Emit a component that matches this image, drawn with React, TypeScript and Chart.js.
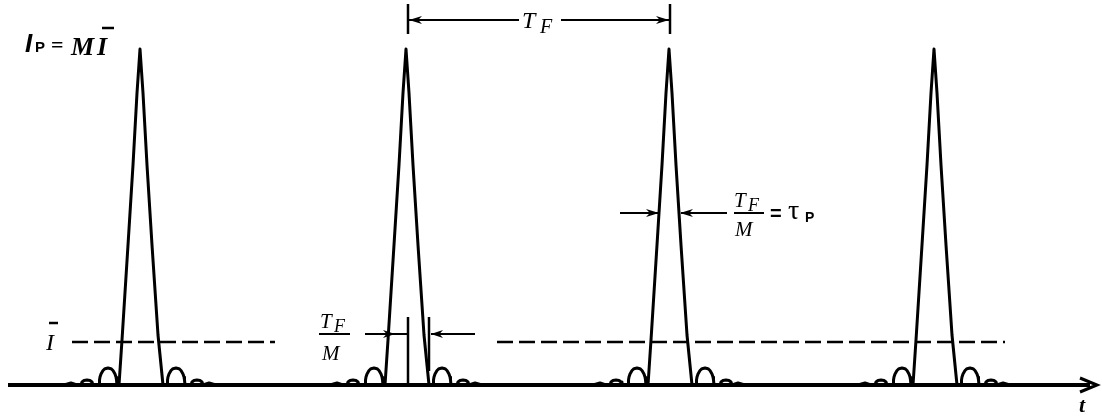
import React, { useEffect, useRef } from "react";
import { Chart, registerables } from "chart.js";

Chart.register(...registerables);

// ---- data ----
const axisStart = 8;
const axisEnd = 1090;
const pulseCenters = [140, 406, 669, 934];
// one pulse profile: offset from the pulse peak, and height above the baseline
const profileOffsets = [
  -76, -69, -63, -59, -58, -56, -53, -50, -48, -47,
  -41, -40.5, -40, -39, -37, -35, -32, -29, -27, -25, -24, -23.5, -23,
  -21, -18, -12, -7, -3, 0, 3, 7, 12, 18, 23,
  27, 27.5, 28, 29, 31, 33, 36, 39, 41, 43, 44, 44.5, 45,
  51, 52, 54, 57, 60, 62, 63, 69, 76,
];
const profileHeights = [
  0, 2, 0, 0, 3, 4.5, 5, 4.5, 3, 0,
  0, 5, 8, 11, 14.5, 16.3, 17, 16.3, 14.5, 11, 8, 5, 0,
  0, 45, 140, 220, 292, 336, 292, 220, 140, 50, 0,
  0, 5, 8, 11, 14.5, 16.3, 17, 16.3, 14.5, 11, 8, 5, 0,
  0, 3, 4.5, 5, 4.5, 3, 0, 2, 0,
];
const meanLevel = 43; // I-bar level
const meanSegments = [
  [72, 275],
  [497, 1005],
];

function buildPulseTrain() {
  const pts: { x: number; y: number }[] = [{ x: axisStart, y: 0 }];
  pulseCenters.forEach((c) => {
    profileOffsets.forEach((o, i) => pts.push({ x: c + o, y: profileHeights[i] }));
  });
  pts.push({ x: axisEnd, y: 0 });
  return pts;
}

function buildMeanLine() {
  const pts: { x: number; y: number | null }[] = [];
  meanSegments.forEach((s, i) => {
    if (i > 0) pts.push({ x: s[0] - 1, y: null });
    pts.push({ x: s[0], y: meanLevel });
    pts.push({ x: s[1], y: meanLevel });
  });
  return pts;
}

function arrowHead(ctx: CanvasRenderingContext2D, tx: number, ty: number, dir: number, len = 11, half = 4) {
  ctx.beginPath();
  ctx.moveTo(tx, ty);
  ctx.lineTo(tx - dir * len, ty - half);
  ctx.lineTo(tx - dir * len * 0.7, ty);
  ctx.lineTo(tx - dir * len, ty + half);
  ctx.closePath();
  ctx.fill();
}

function line(ctx: CanvasRenderingContext2D, x1: number, y1: number, x2: number, y2: number, w = 2) {
  ctx.lineWidth = w;
  ctx.beginPath();
  ctx.moveTo(x1, y1);
  ctx.lineTo(x2, y2);
  ctx.stroke();
}

const annotations = {
  id: "annotations",
  afterDatasetsDraw(chart: any) {
    const ctx: CanvasRenderingContext2D = chart.ctx;
    const xs = chart.scales.x;
    const ys = chart.scales.y;
    const X = (v: number) => xs.getPixelForValue(v);
    const Y = (v: number) => ys.getPixelForValue(v);
    ctx.save();
    ctx.strokeStyle = "#000";
    ctx.fillStyle = "#000";
    ctx.lineCap = "butt";
    const serif = '"Liberation Serif", "DejaVu Serif", serif';
    const sans = '"Liberation Sans", "DejaVu Sans", sans-serif';
    ctx.textAlign = "left";

    // axis arrow + t
    ctx.lineWidth = 3;
    ctx.beginPath();
    ctx.moveTo(X(1080), Y(7));
    ctx.lineTo(X(1097), Y(0));
    ctx.lineTo(X(1080), Y(-7));
    ctx.stroke();
    ctx.font = `italic bold 22px ${serif}`;
    ctx.fillText("t", X(1079), Y(-27));

    // I_P = M I-bar label
    ctx.font = `italic bold 26px ${sans}`;
    ctx.fillText("I", X(25), Y(333));
    ctx.font = `bold 15px ${sans}`;
    ctx.fillText("P", X(35), Y(333));
    ctx.font = `bold 22px ${serif}`;
    ctx.fillText("=", X(51), Y(333));
    ctx.font = `italic bold 26px ${serif}`;
    ctx.fillText("M", X(71), Y(330));
    ctx.fillText("I", X(97), Y(330));
    line(ctx, X(102), Y(357), X(114), Y(357), 2.5);

    // T_F dimension (top)
    const t1 = pulseCenters[1] + 2;
    const t2 = pulseCenters[2] + 1;
    line(ctx, X(t1), Y(381), X(t1), Y(351), 2.5);
    line(ctx, X(t2), Y(381), X(t2), Y(351), 2.5);
    line(ctx, X(t1), Y(365), X(519), Y(365), 2);
    line(ctx, X(561), Y(365), X(t2), Y(365), 2);
    arrowHead(ctx, X(t1 + 1), Y(365), -1, 13, 4);
    arrowHead(ctx, X(t2 - 1), Y(365), 1, 13, 4);
    ctx.font = `italic 24px ${serif}`;
    ctx.fillText("T", X(522), Y(357));
    ctx.font = `italic 20px ${serif}`;
    ctx.fillText("F", X(540), Y(352));

    // T_F / M = tau_P (right)
    const ay = 172;
    line(ctx, X(620), Y(ay), X(658), Y(ay), 2);
    arrowHead(ctx, X(659), Y(ay), 1, 13, 4);
    line(ctx, X(681), Y(ay), X(727), Y(ay), 2);
    arrowHead(ctx, X(680), Y(ay), -1, 13, 4);
    ctx.font = `italic 21px ${serif}`;
    ctx.fillText("T", X(734), Y(178));
    ctx.font = `italic 18px ${serif}`;
    ctx.fillText("F", X(748), Y(174));
    line(ctx, X(734), Y(ay), X(764), Y(ay), 2);
    ctx.font = `italic 21px ${serif}`;
    ctx.fillText("M", X(735), Y(149));
    ctx.font = `bold 20px ${sans}`;
    ctx.fillText("=", X(770), Y(165));
    ctx.font = `28px ${serif}`;
    ctx.fillText("\u03C4", X(788), Y(166));
    ctx.font = `bold 14px ${sans}`;
    ctx.fillText("P", X(805), Y(163));

    // T_F / M (bottom, near second pulse)
    const by = 51;
    ctx.font = `italic 21px ${serif}`;
    ctx.fillText("T", X(320), Y(57));
    ctx.font = `italic 18px ${serif}`;
    ctx.fillText("F", X(334), Y(53));
    line(ctx, X(319), Y(by), X(350), Y(by), 2);
    ctx.font = `italic 21px ${serif}`;
    ctx.fillText("M", X(322), Y(25));
    const c2 = pulseCenters[1] + 2;
    line(ctx, X(c2), Y(68), X(c2), Y(0), 2.5);
    line(ctx, X(429), Y(68), X(429), Y(14), 2.5);
    line(ctx, X(365), Y(by), X(c2), Y(by), 2);
    arrowHead(ctx, X(395), Y(by), 1, 12, 4);
    line(ctx, X(431), Y(by), X(475), Y(by), 2);
    arrowHead(ctx, X(431), Y(by), -1, 12, 4);

    // I-bar label at mean level
    ctx.font = `italic 24px ${serif}`;
    ctx.fillText("I", X(46), Y(35));
    line(ctx, X(49), Y(62), X(58), Y(62), 2.5);

    ctx.restore();
  },
};

export default function App() {
  const ref = useRef<HTMLCanvasElement | null>(null);
  useEffect(() => {
    if (!ref.current) return;
    const chart = new Chart(ref.current, {
      type: "line",
      data: {
        datasets: [
          {
            data: [
              { x: axisStart, y: 0 },
              { x: axisEnd, y: 0 },
            ],
            borderColor: "#000",
            borderWidth: 4,
            pointRadius: 0,
            tension: 0,
          },
          {
            data: buildPulseTrain(),
            borderColor: "#000",
            borderWidth: 3,
            pointRadius: 0,
            tension: 0,
            borderJoinStyle: "round",
          },
          {
            data: buildMeanLine() as any,
            borderColor: "#000",
            borderWidth: 2.5,
            borderDash: [16, 6],
            pointRadius: 0,
            spanGaps: false,
          },
        ],
      },
      options: {
        animation: false,
        responsive: true,
        maintainAspectRatio: false,
        layout: { padding: 0 },
        plugins: { legend: { display: false }, tooltip: { enabled: false } },
        datasets: { line: { clip: false } as any },
        scales: {
          x: { type: "linear", min: 0, max: 1102, display: false },
          y: { type: "linear", min: -33, max: 385, display: false },
        },
      },
      plugins: [annotations],
    });
    return () => chart.destroy();
  }, []);
  return (
    <div style={{ position: "absolute", left: 0, top: 0, width: 1102, height: 418, background: "#fff" }}>
      <canvas ref={ref} />
    </div>
  );
}
